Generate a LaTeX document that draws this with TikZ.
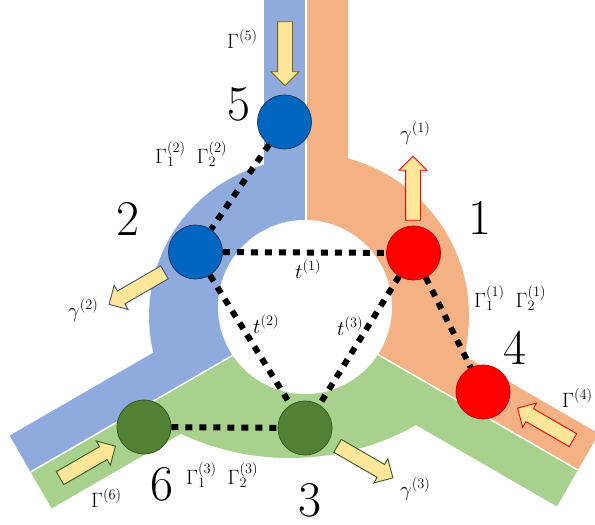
\documentclass[tikz,border=0pt]{standalone}
\usetikzlibrary{shapes.arrows}
\definecolor{ringblue}{HTML}{8FAADC}
\definecolor{ringorange}{HTML}{F4B183}
\definecolor{ringgreen}{HTML}{A9D18E}
\definecolor{nodeblue}{HTML}{0066C0}
\definecolor{nodeblueedge}{HTML}{1F3864}
\definecolor{nodered}{HTML}{FF0000}
\definecolor{noderededge}{HTML}{C00000}
\definecolor{nodegreen}{HTML}{548235}
\definecolor{nodegreenedge}{HTML}{385723}
\definecolor{arrowfill}{HTML}{FFE699}
\definecolor{arrowgold}{HTML}{7F6000}
\definecolor{arrowblue}{HTML}{44546A}
\begin{document}
\begin{tikzpicture}[x=1pt,y=-1pt,
  site/.style={circle, minimum size=54pt, inner sep=0pt, line width=0.8pt},
  bluesite/.style={site, fill=nodeblue, draw=nodeblueedge},
  redsite/.style={site, fill=nodered, draw=noderededge},
  greensite/.style={site, fill=nodegreen, draw=nodegreenedge},
  link/.style={line width=6pt, dash pattern=on 7pt off 7pt},
  flow/.style={single arrow, minimum height=64pt,
    single arrow head extend=6.5pt, inner xsep=0pt, inner ysep=7pt,
    fill=arrowfill, line width=0.9pt},
  bignum/.style={inner sep=0pt, font=\fontsize{50}{50}\selectfont},
  lab/.style={inner sep=0pt, anchor=base west, font=\fontsize{22}{26}\selectfont},
  divider/.style={white, line width=1.5pt}
]
\useasboundingbox (0,0) rectangle (595,525);
\clip (0,0) rectangle (595,525);

\coordinate (C) at (306,313);
\coordinate (Etop) at (306,-20);
\coordinate (E1) at (30.6,472);
\coordinate (E2) at (577.9,470);

% blue sector
\begin{scope}
  \clip (306,313) -- (306,-100) -- (-300,-100) -- (-300,662.9) -- cycle;
  \fill[ringblue] (306,316) circle (157pt);
  \fill[ringblue] (264,-20) rectangle (348,313);
  \fill[ringblue] (285,276.6) -- (327,349.4) -- (51.6,508.4) -- (9.6,435.6) -- cycle;
\end{scope}
% orange sector
\begin{scope}
  \clip (306,313) -- (306,-100) -- (1000,-100) -- (1000,713.7) -- cycle;
  \fill[ringorange] (306,316) circle (163pt);
  \fill[ringorange] (264,-20) rectangle (348,313);
  \fill[ringorange] (327,276.6) -- (598.9,433.6) -- (556.9,506.4) -- (285,349.4) -- cycle;
\end{scope}
% green sector
\begin{scope}
  \clip (306,313) -- (-300,662.9) -- (-300,1000) -- (1000,1000) -- (1000,713.7) -- cycle;
  \fill[ringgreen] (290,200) circle (258pt);
  \fill[ringgreen] (285,276.6) -- (327,349.4) -- (51.6,508.4) -- (9.6,435.6) -- cycle;
  \fill[ringgreen] (327,276.6) -- (598.9,433.6) -- (556.9,506.4) -- (285,349.4) -- cycle;
\end{scope}
% dividing lines
\draw[divider] (C) -- (Etop);
\draw[divider] (C) -- (E1);
\draw[divider] (C) -- (E2);
% hole
\fill[white] (305,307) circle (87pt);

% sites
\node[bluesite] (n5) at (284.5,122) {};
\node[bluesite] (n2) at (195.5,252) {};
\node[redsite] (n1) at (413.5,253) {};
\node[redsite] (n4) at (483,392) {};
\node[greensite] (n6) at (144,427) {};
\node[greensite] (n3) at (305,428) {};

% hopping links
\draw[link] (n5) -- (n2);
\draw[link] (n2) -- (n1);
\draw[link] (n2) -- (n3);
\draw[link] (n1) -- (n3);
\draw[link] (n1) -- (n4);
\draw[link] (n6) -- (n3);

% flow arrows
\node[flow, draw=arrowgold, rotate=-90] (g5) at (285,50) {};
\node[flow, draw=red, rotate=90] (g1) at (413,192) {};
\node[flow, draw=arrowblue, rotate=210] (g2) at (140,286.5) {};
\node[flow, draw=red, rotate=150] (g4) at (548.5,426) {};
\node[flow, draw=nodegreenedge, rotate=-30] (g3) at (362,460) {};
\node[flow, draw=nodegreenedge, rotate=30] (g6) at (84.5,464) {};

% site numbers
\node[bignum] (N5) at (239,104) {5};
\node[bignum] (N2) at (128,219) {2};
\node[bignum] (N1) at (480,218) {1};
\node[bignum] (N4) at (515,348) {4};
\node[bignum] (N6) at (162,484) {6};
\node[bignum] (N3) at (310,500) {3};

% labels
\node[lab] (L5) at (227,48) {$\Gamma^{(5)}$};
\node[lab] (L2) at (155,163) {$\Gamma_1^{(2)}\enspace\Gamma_2^{(2)}$};
\node[lab] (Lg2) at (68,317) {$\gamma^{(2)}$};
\node[lab] (Lt1) at (295,278) {$t^{(1)}$};
\node[lab] (Lt2) at (253,333) {$t^{(2)}$};
\node[lab] (Lt3) at (337,335) {$t^{(3)}$};
\node[lab] (Lg1) at (400,140) {$\gamma^{(1)}$};
\node[lab] (L1) at (474,307) {$\Gamma_1^{(1)}\enspace\Gamma_2^{(1)}$};
\node[lab] (L4) at (562,407) {$\Gamma^{(4)}$};
\node[lab] (L3) at (186,484) {$\Gamma_1^{(3)}\enspace\Gamma_2^{(3)}$};
\node[lab] (L6) at (91,507) {$\Gamma^{(6)}$};
\node[lab] (Lg3) at (400,496) {$\gamma^{(3)}$};
\end{tikzpicture}
\end{document}
